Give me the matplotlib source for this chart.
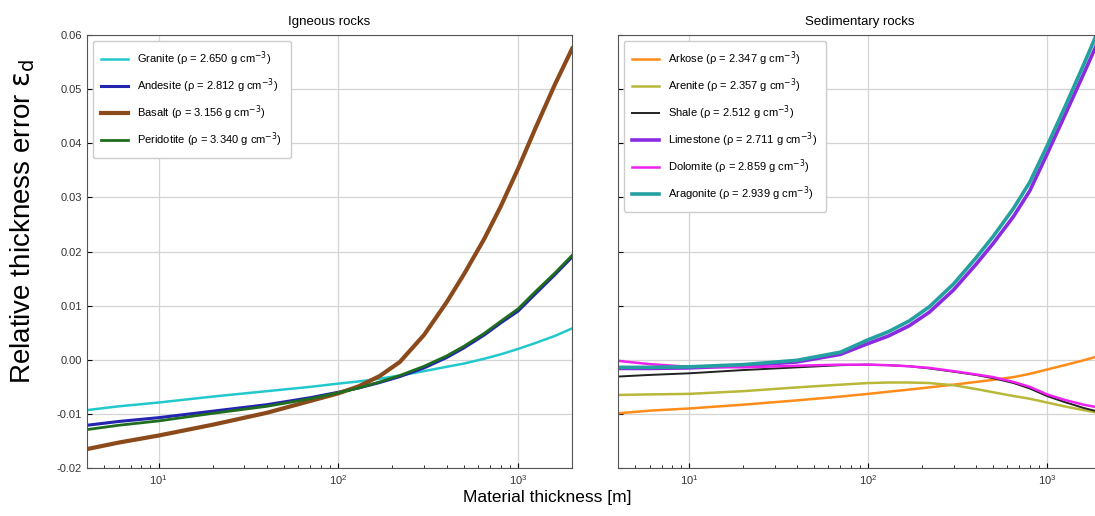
import numpy as np
import matplotlib
matplotlib.use("Agg")
import matplotlib.pyplot as plt

plt.rcParams['font.family'] = ['Liberation Sans', 'DejaVu Sans']
plt.rcParams['mathtext.fontset'] = 'dejavusans'

# material thickness [m] at which values were read
thickness = [4, 6, 10, 20, 40, 70, 100, 130, 170, 220, 300, 400, 500, 650, 800, 1000, 1250, 1600, 2000]

# igneous rocks
granite    = [-0.0093, -0.0086, -0.0079, -0.0068, -0.0058, -0.0050, -0.0044, -0.0040, -0.0035, -0.0029, -0.0021, -0.0013, -0.0007, 0.0002, 0.0010, 0.0020, 0.0031, 0.0044, 0.0058]
andesite   = [-0.0121, -0.0114, -0.0107, -0.0095, -0.0083, -0.0070, -0.0060, -0.0052, -0.0042, -0.0031, -0.0015, 0.0004, 0.0022, 0.0046, 0.0068, 0.0090, 0.0122, 0.0157, 0.0190]
basalt     = [-0.0165, -0.0153, -0.0140, -0.0120, -0.0098, -0.0076, -0.0062, -0.0049, -0.0030, -0.0004, 0.0046, 0.0106, 0.0158, 0.0224, 0.0283, 0.0353, 0.0428, 0.0508, 0.0575]
peridotite = [-0.0129, -0.0121, -0.0113, -0.0099, -0.0086, -0.0072, -0.0061, -0.0052, -0.0041, -0.0029, -0.0012, 0.0007, 0.0025, 0.0049, 0.0071, 0.0094, 0.0126, 0.0160, 0.0193]

# sedimentary rocks
arkose     = [-0.0099, -0.0094, -0.0090, -0.0083, -0.0075, -0.0068, -0.0063, -0.0059, -0.0055, -0.0051, -0.0046, -0.0041, -0.0037, -0.0032, -0.0026, -0.0018, -0.0010, -0.0001, 0.0008]
arenite    = [-0.0065, -0.0064, -0.0063, -0.0058, -0.0051, -0.0046, -0.0043, -0.0042, -0.0042, -0.0043, -0.0047, -0.0054, -0.0060, -0.0067, -0.0072, -0.0079, -0.0086, -0.0093, -0.0099]
shale      = [-0.0031, -0.0028, -0.0025, -0.0019, -0.0014, -0.0010, -0.0009, -0.0010, -0.0012, -0.0016, -0.0022, -0.0028, -0.0034, -0.0043, -0.0053, -0.0067, -0.0078, -0.0089, -0.0097]
limestone  = [-0.0016, -0.0016, -0.0015, -0.0011, -0.0004, 0.0010, 0.0030, 0.0044, 0.0063, 0.0088, 0.0129, 0.0176, 0.0215, 0.0265, 0.0312, 0.0380, 0.0450, 0.0528, 0.0600]
dolomite   = [-0.0002, -0.0008, -0.0013, -0.0014, -0.0011, -0.0009, -0.0009, -0.0010, -0.0012, -0.0015, -0.0021, -0.0027, -0.0032, -0.0041, -0.0050, -0.0064, -0.0074, -0.0083, -0.0089]
aragonite  = [-0.0014, -0.0014, -0.0013, -0.0009, -0.0001, 0.0014, 0.0037, 0.0052, 0.0072, 0.0098, 0.0140, 0.0188, 0.0228, 0.0280, 0.0328, 0.0395, 0.0465, 0.0545, 0.0620]

igneous = [
    ("Granite", "2.650", granite, "#22c8cc", 1.8),
    ("Andesite", "2.812", andesite, "#2424b0", 2.2),
    ("Basalt", "3.156", basalt, "#8b4a1c", 3.0),
    ("Peridotite", "3.340", peridotite, "#1f6e1f", 2.0),
]
sedimentary = [
    ("Arkose", "2.347", arkose, "#ff8c1a", 1.8),
    ("Arenite", "2.357", arenite, "#b8b83a", 1.8),
    ("Shale", "2.512", shale, "#222222", 1.4),
    ("Limestone", "2.711", limestone, "#8a2be2", 2.6),
    ("Dolomite", "2.859", dolomite, "#ee22ee", 1.8),
    ("Aragonite", "2.939", aragonite, "#24a0a0", 2.6),
]

fig = plt.figure(figsize=(10.95, 5.16), dpi=100)
ax1 = fig.add_axes([0.0795, 0.093, 0.443, 0.839])
ax2 = fig.add_axes([0.5644, 0.093, 0.441, 0.839], sharey=ax1)


def draw(ax, rocks, title):
    for name, rho, vals, col, lw in rocks:
        lab = name + " (ρ = " + rho + " g cm$^{-3}$)"
        ax.plot(thickness, vals, color=col, lw=lw, label=lab)
    ax.set_xscale('log')
    ax.set_xlim(4, 2000)
    ax.set_ylim(-0.02, 0.06)
    ax.grid(True, which='major', color='#d4d4d4', lw=0.9)
    ax.tick_params(which='both', direction='in', labelsize=8, labelcolor='#333333')
    ax.tick_params(which='major', length=3.5)
    ax.tick_params(which='minor', length=2)
    for s in ax.spines.values():
        s.set_color('#555555')
    ax.set_title(title, fontsize=9.5, pad=7)
    ax.legend(loc='upper left', fontsize=8, handlelength=2.4, labelspacing=0.75,
              borderpad=0.8, edgecolor='#cccccc', framealpha=1)


draw(ax1, igneous, "Igneous rocks")
draw(ax2, sedimentary, "Sedimentary rocks")
ax1.set_yticks([-0.02, -0.01, 0.0, 0.01, 0.02, 0.03, 0.04, 0.05, 0.06])
ax1.yaxis.set_major_formatter(matplotlib.ticker.FormatStrFormatter('%.2f'))
ax2.tick_params(labelleft=False)

fig.text(0.5, 0.035, "Material thickness [m]", ha='center', va='center', fontsize=12.5)
fig.text(0.021, 0.572, r"Relative thickness error $\mathrm{\varepsilon_d}$", rotation=90,
         ha='center', va='center', fontsize=20)

fig.savefig("out.png", dpi=100)
